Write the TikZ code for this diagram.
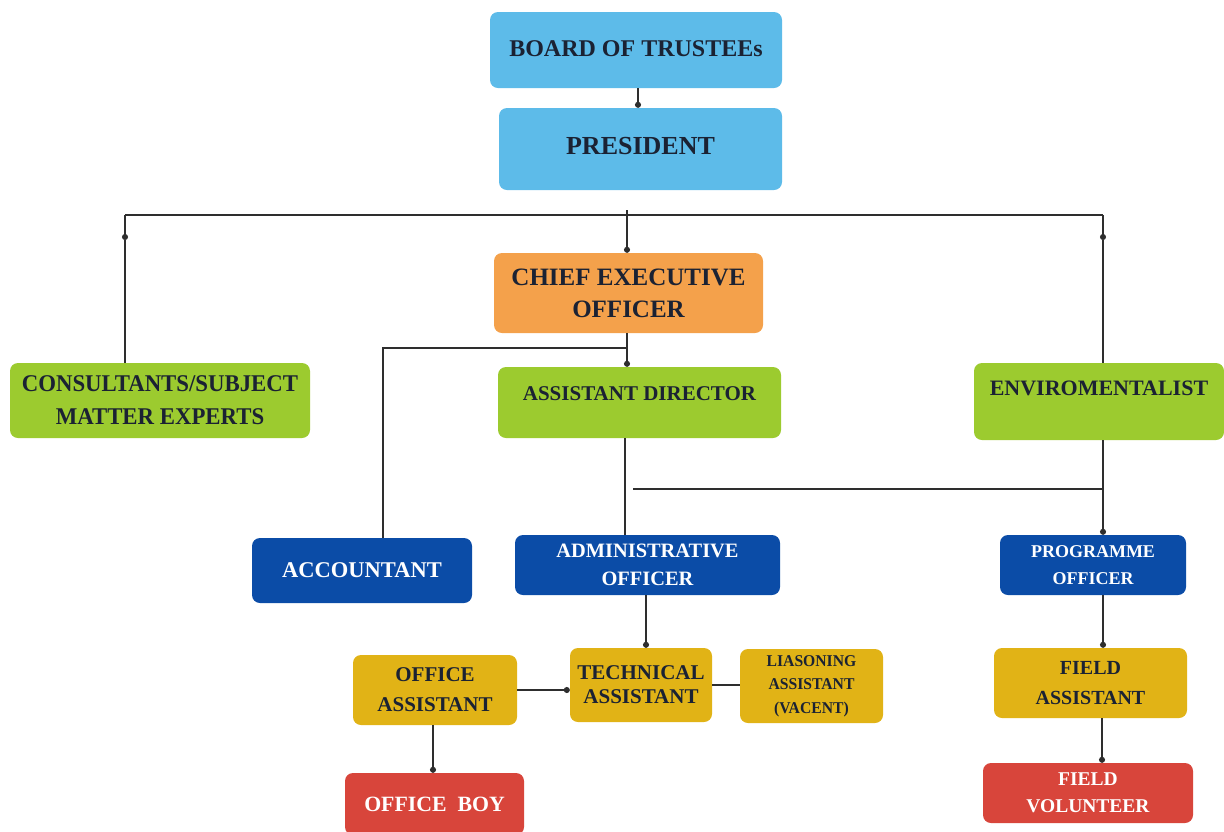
\documentclass[tikz,border=0pt]{standalone}
\usepackage{fontspec}
\setmainfont{Liberation Serif}
\usetikzlibrary{arrows.meta}
\definecolor{lblue}{HTML}{5DBBE9}
\definecolor{lgreen}{HTML}{9CCB2F}
\definecolor{orng}{HTML}{F4A14B}
\definecolor{dblue}{HTML}{0B4CA7}
\definecolor{gold}{HTML}{E1B316}
\definecolor{redb}{HTML}{D8453B}
\definecolor{ink}{HTML}{1B2233}
\definecolor{wire}{HTML}{2E2E2E}
\tikzset{
  box/.style={rectangle, rounded corners=8pt, draw=none, align=center, inner sep=2pt, text=ink},
  wbox/.style={box, text=white},
  fsz/.style 2 args={font=\bfseries\fontsize{#1}{#2}\selectfont},
  link/.style={draw=wire, line width=1.1pt},
  dot/.style={link, -{Circle[length=6pt]}},
}
\begin{document}
\begin{tikzpicture}[x=1pt,y=-1pt]
\useasboundingbox (0,0) rectangle (1224,831);
% boxes
\node[box, fill=lblue, minimum width=292pt, minimum height=76pt, fsz={24}{28}] (board) at (636,50) {\raisebox{3pt}{BOARD OF TRUSTEEs}};
\node[box, fill=lblue, minimum width=283pt, minimum height=82pt, fsz={26}{30}] (pres) at (640.5,149) {\raisebox{7pt}{PRESIDENT}};
\node[box, fill=orng, minimum width=269pt, minimum height=80pt, fsz={25}{32}] (ceo) at (628.5,293) {CHIEF EXECUTIVE\\OFFICER};
\node[box, fill=lgreen, minimum width=300pt, minimum height=75pt, fsz={24}{33}] (cons) at (160,400.5) {\scalebox{0.95}[1]{CONSULTANTS/SUBJECT}\\\scalebox{0.95}[1]{MATTER EXPERTS}};
\node[box, fill=lgreen, minimum width=283pt, minimum height=71pt] (ad) at (639.5,402.5) {};
\node[fsz={21}{24}, text=ink] (adt) at (ad.center |- 0,394) {ASSISTANT DIRECTOR};
\node[box, fill=lgreen, minimum width=250pt, minimum height=77pt] (env) at (1099,401.5) {};
\node[fsz={22}{24}, text=ink] (envt) at (env.center |- 0,388) {ENVIROMENTALIST};
\node[wbox, fill=dblue, minimum width=220pt, minimum height=65pt, fsz={22.5}{26}] (acc) at (362,570.5) {ACCOUNTANT};
\node[wbox, fill=dblue, minimum width=265pt, minimum height=60pt, fsz={20.4}{28}] (adm) at (647.5,565) {ADMINISTRATIVE\\OFFICER};
\node[wbox, fill=dblue, minimum width=186pt, minimum height=60pt, fsz={18}{27}] (prog) at (1093,565) {PROGRAMME\\OFFICER};
\node[box, fill=gold, minimum width=164pt, minimum height=70pt, fsz={21}{30}] (oa) at (435,690) {OFFICE\\ASSISTANT};
\node[box, fill=gold, minimum width=142pt, minimum height=74pt, fsz={21}{24}] (tech) at (641,685) {TECHNICAL\\ASSISTANT};
\node[box, fill=gold, minimum width=143pt, minimum height=74pt, fsz={16.5}{23.5}] (lias) at (811.5,686) {\scalebox{0.95}[1]{LIASONING}\\\scalebox{0.95}[1]{ASSISTANT}\\\scalebox{0.95}[1]{(VACENT)}};
\node[wbox, fill=redb, minimum width=179pt, minimum height=62pt, fsz={21.8}{26}] (boy) at (434.5,804) {OFFICE\ \ BOY};
\node[box, fill=gold, minimum width=193pt, minimum height=70pt, fsz={20}{30}] (fa) at (1090.5,683) {FIELD\\ASSISTANT};
\node[wbox, fill=redb, minimum width=210pt, minimum height=60pt, fsz={19.5}{27}] (fv) at (1088,793) {FIELD\\VOLUNTEER};
% coordinates
\coordinate (bpx) at (638,88);
\coordinate (barL) at (125,215);
\coordinate (barR) at (1103,215);
\coordinate (barC) at (627,210);
\coordinate (dotL) at (125,240);
\coordinate (dotR) at (1103,240);
\coordinate (ceoJ) at (627,348);
\coordinate (accJ) at (383,348);
\coordinate (adB) at (625,438);
\coordinate (hS) at (633,489);
\coordinate (hE) at (1103,489);
\coordinate (admB) at (646,595);
\coordinate (oaB) at (433,725);
\coordinate (progB) at (1103,595);
\coordinate (faB) at (1102,718);
% connectors
\draw[dot] (bpx) -- (bpx |- pres.north);
\draw[link] (barL) -- (barR);
\draw[dot] (barC) -- (barC |- ceo.north);
\draw[dot] (barL) -- (dotL);
\draw[link] (dotL) -- (dotL |- cons.north);
\draw[dot] (barR) -- (dotR);
\draw[link] (dotR) -- (dotR |- env.north);
\draw[link] (ceoJ |- ceo.south) -- (ceoJ) -- (accJ) -- (accJ |- acc.north);
\draw[dot] (ceoJ) -- (ceoJ |- ad.north);
\draw[link] (adB) -- (adB |- adm.north);
\draw[link] (hS) -- (hE);
\draw[dot] (hE |- env.south) -- (hE |- prog.north);
\draw[dot] (admB) -- (admB |- tech.north);
\draw[dot] (oa.east) -- (oa.east -| tech.west);
\draw[link] (tech.east) -- (tech.east -| lias.west);
\draw[dot] (oaB) -- (oaB |- boy.north);
\draw[dot] (progB) -- (progB |- fa.north);
\draw[dot] (faB) -- (faB |- fv.north);
\end{tikzpicture}
\end{document}
